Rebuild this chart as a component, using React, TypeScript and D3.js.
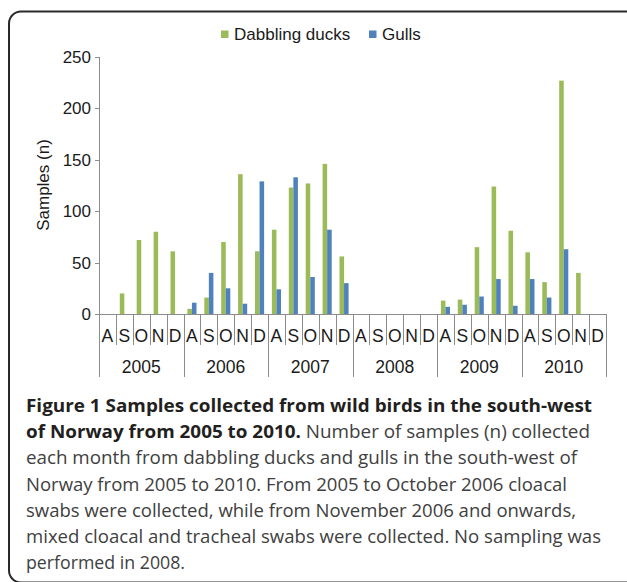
import React, { useEffect, useRef } from 'react';
import * as d3 from 'd3';

const years = ['2005', '2006', '2007', '2008', '2009', '2010'];
const months = ['A', 'S', 'O', 'N', 'D'];
const seriesNames = ['Dabbling ducks', 'Gulls'];

// one value per month, Aug-Dec for each year
const ducks = [
  0, 20, 72, 80, 61,
  5, 16, 70, 136, 61,
  82, 123, 127, 146, 56,
  0, 0, 0, 0, 0,
  13, 14, 65, 124, 81,
  60, 31, 227, 40, 0,
];
const gulls = [
  0, 0, 0, 0, 0,
  11, 40, 25, 10, 129,
  24, 133, 36, 82, 30,
  0, 0, 0, 0, 0,
  7, 9, 17, 34, 8,
  34, 16, 63, 0, 0,
];
const yTicks = [0, 50, 100, 150, 200, 250];

const captionBold = [
  'Figure 1 Samples collected from wild birds in the south-west',
  'of Norway from 2005 to 2010.',
];
const captionLines = [
  { bold: captionBold[0], text: '', len: 566 },
  { bold: captionBold[1], text: ' Number of samples (n) collected', len: 564 },
  { bold: '', text: 'each month from dabbling ducks and gulls in the south-west of', len: 551 },
  { bold: '', text: 'Norway from 2005 to 2010. From 2005 to October 2006 cloacal', len: 541 },
  { bold: '', text: 'swabs were collected, while from November 2006 and onwards,', len: 550 },
  { bold: '', text: 'mixed cloacal and tracheal swabs were collected. No sampling was', len: 575 },
  { bold: '', text: 'performed in 2008.', len: 159 },
];

const GREEN = '#9bbb59';
const BLUE = '#4f81bd';
const AXIS = '#8c8c8c';
const FONT = '"Liberation Sans", Arial, sans-serif';

const App: React.FC = () => {
  const svgRef = useRef<SVGSVGElement>(null);

  useEffect(() => {
    if (!svgRef.current) return;
    const svg = d3.select(svgRef.current);
    svg.selectAll('*').remove();

    const keys = years.flatMap((y) => months.map((m) => `${y}-${m}`));
    const x = d3.scaleBand<string>().domain(keys).range([99, 606]);
    const bw = x.bandwidth();
    const gap = 3.9;
    const inner = d3.scaleBand<string>().domain(seriesNames).range([gap, bw - gap]);
    const y = d3.scaleLinear().domain([0, 250]).range([314, 57]);

    // frame
    svg.append('rect')
      .attr('x', 9).attr('y', 11.5)
      .attr('width', 660).attr('height', 571)
      .attr('rx', 12)
      .attr('fill', 'none')
      .attr('stroke', '#2a2a2a')
      .attr('stroke-width', 2);

    // bars
    const rows = keys.map((k, i) => ({ key: k, values: [ducks[i], gulls[i]] }));
    const g = svg.append('g');
    rows.forEach((r) => {
      r.values.forEach((v, j) => {
        if (!v) return;
        g.append('rect')
          .attr('x', (x(r.key) ?? 0) + (inner(seriesNames[j]) ?? 0))
          .attr('y', y(v))
          .attr('width', inner.bandwidth())
          .attr('height', y(0) - y(v))
          .attr('fill', j === 0 ? GREEN : BLUE);
      });
    });

    // y axis
    svg.append('line')
      .attr('x1', 99.5).attr('x2', 99.5)
      .attr('y1', y(250)).attr('y2', 377)
      .attr('stroke', AXIS);
    yTicks.forEach((t) => {
      svg.append('line')
        .attr('x1', 95).attr('x2', 99.5)
        .attr('y1', Math.round(y(t)) + 0.5).attr('y2', Math.round(y(t)) + 0.5)
        .attr('stroke', AXIS);
      svg.append('text')
        .attr('x', 91).attr('y', y(t))
        .attr('dy', '0.35em')
        .attr('text-anchor', 'end')
        .attr('font-family', FONT)
        .attr('font-size', 17)
        .attr('fill', '#1a1a1a')
        .text(t);
    });

    svg.append('text')
      .attr('transform', 'translate(49,185) rotate(-90)')
      .attr('text-anchor', 'middle')
      .attr('font-family', FONT)
      .attr('font-size', 17)
      .attr('fill', '#1a1a1a')
      .text('Samples (n)');

    // x axis
    svg.append('line')
      .attr('x1', 99).attr('x2', 606)
      .attr('y1', Math.round(y(0)) + 0.5).attr('y2', Math.round(y(0)) + 0.5)
      .attr('stroke', AXIS);
    keys.forEach((k, i) => {
      const x1 = Math.round((x(k) ?? 0) + bw) + 0.5;
      const isYearEnd = i % 5 === 4;
      svg.append('line')
        .attr('x1', x1).attr('x2', x1)
        .attr('y1', y(0)).attr('y2', isYearEnd ? 377 : 345)
        .attr('stroke', AXIS);
      svg.append('text')
        .attr('x', (x(k) ?? 0) + bw / 2).attr('y', 342)
        .attr('text-anchor', 'middle')
        .attr('font-family', FONT)
        .attr('font-size', 17.5)
        .attr('fill', '#1a1a1a')
        .text(months[i % 5]);
    });
    years.forEach((yr) => {
      const x0 = x(`${yr}-A`) ?? 0;
      svg.append('text')
        .attr('x', x0 + bw * 2.5).attr('y', 373)
        .attr('text-anchor', 'middle')
        .attr('font-family', FONT)
        .attr('font-size', 17.5)
        .attr('fill', '#1a1a1a')
        .text(yr);
    });

    // legend
    const legend = [
      { name: seriesNames[0], color: GREEN, x: 221 },
      { name: seriesNames[1], color: BLUE, x: 369 },
    ];
    legend.forEach((l) => {
      svg.append('rect')
        .attr('x', l.x).attr('y', 30.5)
        .attr('width', 7.5).attr('height', 7.5)
        .attr('fill', l.color);
      svg.append('text')
        .attr('x', l.x + 13).attr('y', 40)
        .attr('font-family', FONT)
        .attr('font-size', 17)
        .attr('fill', '#1a1a1a')
        .text(l.name);
    });

    // caption
    captionLines.forEach((c, i) => {
      const t = svg.append('text')
        .attr('x', 26).attr('y', 412 + i * 26.2)
        .attr('font-family', '"Open Sans", sans-serif')
        .attr('font-size', 18.5)
        .attr('textLength', c.len)
        .attr('lengthAdjust', 'spacingAndGlyphs');
      if (c.bold) {
        t.append('tspan')
          .attr('font-weight', 'bold')
          .attr('fill', '#231f20')
          .text(c.bold);
      }
      if (c.text) {
        t.append('tspan')
          .attr('fill', '#404040')
          .text(c.text);
      }
    });
  }, []);

  return (
    <svg
      ref={svgRef}
      width={627}
      height={582}
      style={{ position: 'absolute', left: 0, top: 0, background: '#fff' }}
    />
  );
};

export default App;
